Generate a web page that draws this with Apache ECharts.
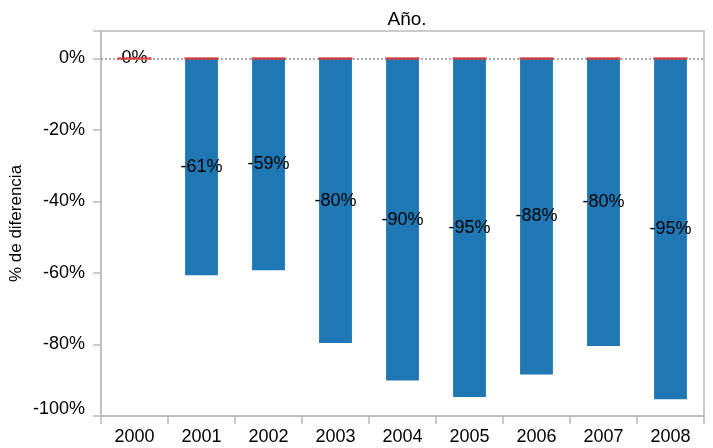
<!DOCTYPE html>
<html><head><meta charset="utf-8">
<script src="https://cdn.jsdelivr.net/npm/echarts@6/dist/echarts.min.js"></script>
<style>html,body{margin:0;padding:0;background:#fff}#c{width:713px;height:448px}</style>
</head><body><div id="c"></div>
<script>
const years = ['2000','2001','2002','2003','2004','2005','2006','2007','2008'];
const diffPct = [0, -60.6, -59.2, -79.6, -90.1, -94.7, -88.4, -80.4, -95.3];
const baseline = [0, 0, 0, 0, 0, 0, 0, 0, 0];
const yTicks = [-100, -80, -60, -40, -20, 0];

const chart = echarts.init(document.getElementById('c'));
const font = 'Liberation Sans, Arial, sans-serif';
chart.setOption({
  animation: false,
  title: {text: 'Año.', left: 402, top: 5, textAlign: 'center',
          textStyle: {fontFamily: font, fontSize: 19, fontWeight: 'normal', color: '#000'}},
  grid: {left: 101, right: 9, top: 31, bottom: 32, show: true, borderColor: '#bbb', borderWidth: 1.5,
         containLabel: false, outerBoundsMode: 'none'},
  xAxis: {
    type: 'category', data: years,
    axisLine: {onZero: false, lineStyle: {color: '#bbb', width: 1.5}},
    axisTick: {show: true, alignWithLabel: false, length: 8, lineStyle: {color: '#bbb', width: 1.5}},
    axisLabel: {fontFamily: font, fontSize: 18, color: '#000', margin: 12}
  },
  yAxis: {
    type: 'value', min: -100, max: 7.7, interval: 20,
    name: '% de diferencia', nameLocation: 'middle', nameGap: 76, nameRotate: 90, nameMoveOverlap: false,
    nameTextStyle: {fontFamily: font, fontSize: 17, color: '#000'},
    axisLine: {show: true, lineStyle: {color: '#bbb', width: 1.5}},
    axisTick: {show: true, length: 8, lineStyle: {color: '#bbb', width: 1.5}},
    splitLine: {show: false},
    axisLabel: {fontFamily: font, fontSize: 18, color: '#000', margin: 16,
      formatter: v => yTicks.indexOf(v) < 0 ? '' : (v === -100 ? '{up|' + v + '%}' : v + '%'),
      rich: {up: {fontFamily: font, fontSize: 18, color: '#000', padding: [0, 0, 14, 0]}}}
  },
  series: [{
    type: 'bar', data: diffPct, barWidth: '49%',
    itemStyle: {color: '#1f77b4'},
    label: {show: true, position: 'inside', fontFamily: font, fontSize: 18, color: '#000',
      formatter: p => Math.round(p.value) + '%'},
    markLine: {silent: true, symbol: 'none', label: {show: false},
      lineStyle: {color: '#aaa', type: [2, 2], width: 2},
      data: [{yAxis: 0}]}
  }, {
    type: 'scatter', data: baseline, symbol: 'rect', symbolSize: [34, 2.5],
    itemStyle: {color: '#d62728'}, z: 5
  }]
});
</script></body></html>
